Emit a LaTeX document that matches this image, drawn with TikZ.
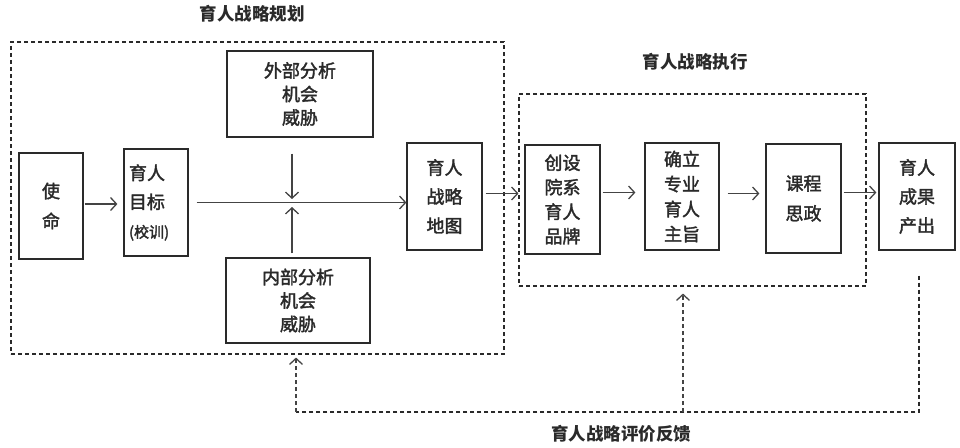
\documentclass[tikz,border=0pt]{standalone}
\usepackage{fontspec}
\newfontfamily\cjk[FakeBold=2]{Noto Sans CJK SC}
\newfontfamily\cjkhead{Noto Sans CJK SC}
\usetikzlibrary{arrows.meta}
\definecolor{ink}{HTML}{2A2A2A}
\definecolor{wire}{HTML}{444444}
\tikzset{
  stage/.style={draw=ink, line width=1.2pt, inner sep=0pt, align=center, text=ink,
    font=\cjk\fontsize{18}{29}\selectfont},
  frame/.style={draw=ink, line width=1.1pt, dash pattern=on 4pt off 3pt, inner sep=0pt},
  flow/.style={draw=wire, line width=1.3pt,
    -{Straight Barb[length=6pt,width=13pt,line width=1.3pt]}},
  fbline/.style={draw=ink, line width=1.1pt, dash pattern=on 4pt off 3pt},
  heading/.style={font=\cjkhead\bfseries\fontsize{17.5}{17.5}\selectfont, text=ink}
}
\begin{document}
\begin{tikzpicture}[x=1pt,y=-1pt]
   \useasboundingbox (0,0) rectangle (960,447);

   % dashed frames and their titles
   \node[frame, minimum width=493pt, minimum height=312pt] (plan) at (257.5,198) {};
   \node[frame, minimum width=347pt, minimum height=192pt] (exec) at (692.5,190) {};
   \node[heading] (planT) at (252,14) {育人战略规划};
   \node[heading] (execT) at (695,62) {育人战略执行};
   \node[heading] (fbT) at (621,434) {育人战略评价反馈};

   % planning
   \node[stage, minimum width=64pt, minimum height=106pt, font=\cjk\fontsize{18}{30}\selectfont] (mission) at (51,206) {使\\命};
   \node[stage, minimum width=64pt, minimum height=107pt, text width=54pt, align=left] (goal) at (156,202.5)
      {育人\\目标\\{\fontsize{15}{15}\selectfont (校训)}};
   \node[stage, minimum width=146pt, minimum height=86pt, font=\cjk\fontsize{18}{23.5}\selectfont] (ext) at (300,94)
      {外部分析\\机会\\威胁};
   \node[stage, minimum width=144pt, minimum height=85pt, font=\cjk\fontsize{18}{23.5}\selectfont] (int) at (298,300.5)
      {内部分析\\机会\\威胁};
   \node[stage, minimum width=75pt, minimum height=107pt] (map) at (444.5,196.5) {育人\\战略\\地图};
   \coordinate (hub) at (292,202);

   % execution
   \node[stage, minimum width=75pt, minimum height=109pt, font=\cjk\fontsize{18}{24.5}\selectfont] (brand) at (562.5,199.5)
      {创设\\院系\\育人\\品牌};
   \node[stage, minimum width=74pt, minimum height=107pt, font=\cjk\fontsize{18}{25}\selectfont] (aim) at (682,196.5)
      {确立\\专业\\育人\\主旨};
   \node[stage, minimum width=75pt, minimum height=109pt, font=\cjk\fontsize{18}{30}\selectfont] (ideo) at (803.5,198.5)
      {课程\\思政};
   \node[stage, minimum width=76pt, minimum height=107pt] (out) at (917,196.5) {育人\\成果\\产出};

   % arrows
   \draw[flow, shorten <=1pt, shorten >=6pt] ([yshift=2pt]mission.east) -- ([yshift=2pt]mission.east -| goal.west);
   \draw[flow, shorten <=8pt] (goal.east) -- (goal.east -| map.west);
   \draw[flow, shorten <=16pt, shorten >=3pt] (ext.south -| hub) -- (hub);
   \draw[flow, shorten <=4pt, shorten >=5pt] (int.north -| hub) -- (hub);
   \draw[flow, shorten <=3pt] ([yshift=3pt]map.east) -- ([yshift=3pt]map.east -| exec.west);
   \draw[flow, shorten <=2pt, shorten >=9pt] ([yshift=4pt]aim.west -| brand.east) -- ([yshift=4pt]aim.west);
   \draw[flow, shorten <=8pt, shorten >=6pt] ([yshift=3pt]aim.east) -- ([yshift=3pt]aim.east -| ideo.west);
   \draw[flow, shorten <=2pt, shorten >=2pt] ([yshift=6pt]ideo.east) -- ([yshift=6pt]ideo.east -| out.west);

   % feedback
   \coordinate (fbR) at (919,412);
   \coordinate (fbL) at (296,412);
   \coordinate (fbM) at (683,412);
   \draw[fbline] ([xshift=2pt,yshift=-25pt]out.south) -- (fbR) -- (fbL);
   \draw[fbline, flow, dash pattern=on 4pt off 3pt, shorten >=3pt] (fbL) -- (fbL |- plan.south);
   \draw[fbline, flow, dash pattern=on 4pt off 3pt, shorten >=7pt] (fbM) -- (fbM |- exec.south);

\end{tikzpicture}
\end{document}
